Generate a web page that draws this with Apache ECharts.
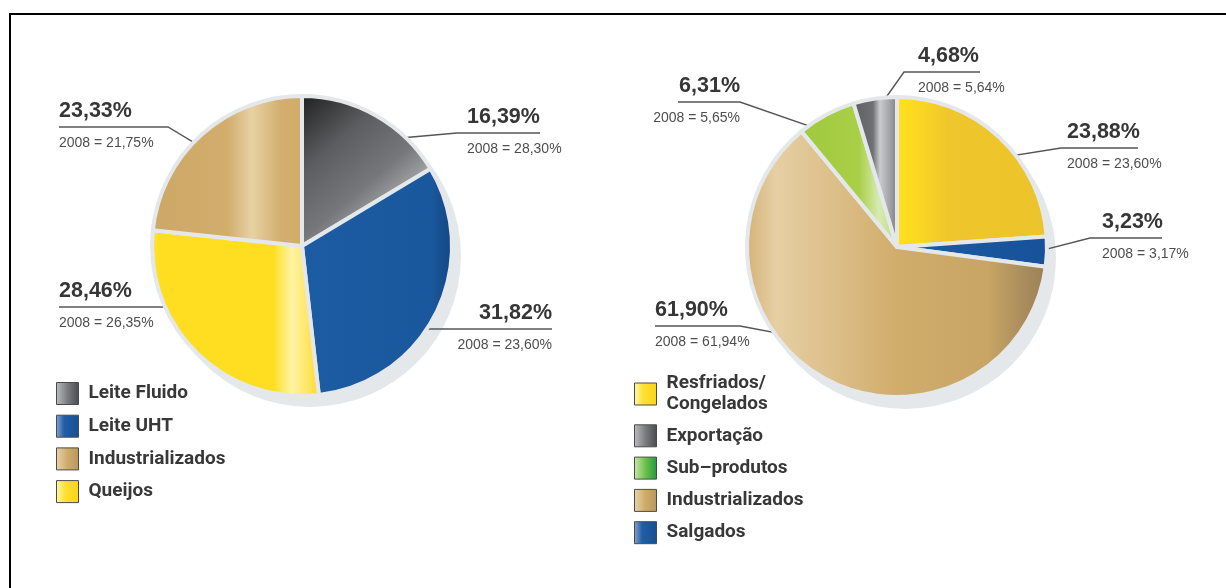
<!DOCTYPE html>
<html>
<head>
<meta charset="utf-8">
<script src="https://cdn.jsdelivr.net/npm/echarts@6/dist/echarts.min.js"></script>
<style>
  html, body { margin: 0; padding: 0; background: #fff; }
  #chart { width: 1226px; height: 588px; }
</style>
</head>
<body>
<div id="chart"></div>
<script>
// left pie - leite
const milkCategories = ['Leite Fluido', 'Leite UHT', 'Queijos', 'Industrializados']
const milkShares = [16.39, 31.82, 28.46, 23.33]
const milkShares2008 = [28.30, 23.60, 26.35, 21.75]
const milkLegend = ['Leite Fluido', 'Leite UHT', 'Industrializados', 'Queijos']

// right pie - carnes
const meatCategories = ['Resfriados/Congelados', 'Salgados', 'Industrializados', 'Sub–produtos', 'Exportação']
const meatShares = [23.88, 3.23, 61.90, 6.31, 4.68]
const meatShares2008 = [23.60, 3.17, 61.94, 5.65, 5.64]
const meatLegend = ['Resfriados/Congelados', 'Exportação', 'Sub–produtos', 'Industrializados', 'Salgados']

const textFont = "'Liberation Sans', Arial, sans-serif"
const legendFont = "Roboto, 'Liberation Sans', sans-serif"

function grad(x2, y2, stops) {
  return new echarts.graphic.LinearGradient(0, 0, x2, y2,
    stops.map(s => ({ offset: s[0], color: s[1] })))
}

// slice fills
const milkFill = {
  'Leite Fluido': grad(1, 1, [[0, '#1e1e1f'], [0.3, '#5c5d60'], [0.55, '#76777a'], [0.74, '#adaeb0'], [0.84, '#dedfe0'], [0.93, '#6b6c6f'], [1, '#3e3f41']]),
  'Leite UHT': grad(1, 0, [[0, '#1c5ca2'], [0.85, '#1a589d'], [1, '#134580']]),
  'Queijos': grad(1, 0, [[0, '#ffe545'], [0.06, '#ffdd20'], [0.72, '#ffdd20'], [0.83, '#fff3a4'], [0.92, '#ffe666'], [1, '#fbd81c']]),
  'Industrializados': grad(1, 0, [[0, '#cda765'], [0.5, '#d2ad6d'], [0.66, '#e7d1a4'], [0.76, '#dbbf88'], [0.85, '#d3ae6e'], [1, '#d0ab6a']])
}
const meatFill = {
  'Resfriados/Congelados': grad(1, 0, [[0, '#ffe21b'], [0.15, '#fbd823'], [0.35, '#efc62b'], [1, '#ecc32a']]),
  'Salgados': grad(1, 0, [[0, '#1c5ca2'], [1, '#17519a']]),
  'Industrializados': grad(1, 0, [[0, '#d3b176'], [0.1, '#e6cfa3'], [0.3, '#dcbe88'], [0.5, '#d1ad6c'], [0.8, '#c8a565'], [0.93, '#a88b5c'], [1, '#9b8055']]),
  'Sub–produtos': grad(1, 0, [[0, '#9fc93d'], [0.6, '#a9cf47'], [0.8, '#d7ebb2'], [1, '#b9d97c']]),
  'Exportação': grad(1, 0, [[0, '#5d5e61'], [0.45, '#6f7073'], [0.6, '#cacbcd'], [0.8, '#a3a4a7'], [1, '#76777a']])
}

// legend swatches
const swatch = {
  'Leite Fluido': grad(1, 0, [[0, '#bdbec0'], [0.5, '#7a7b7e'], [1, '#4a4b4e']]),
  'Exportação': grad(1, 0, [[0, '#bdbec0'], [0.5, '#7a7b7e'], [1, '#4a4b4e']]),
  'Leite UHT': grad(1, 0, [[0, '#88a6d4'], [0.35, '#215ea6'], [1, '#174f93']]),
  'Salgados': grad(1, 0, [[0, '#88a6d4'], [0.35, '#215ea6'], [1, '#174f93']]),
  'Industrializados': grad(1, 0, [[0, '#e8d3aa'], [0.5, '#cfab6b'], [1, '#b8965c']]),
  'Queijos': grad(1, 0, [[0, '#fff7b0'], [0.4, '#ffe033'], [1, '#f9d514']]),
  'Resfriados/Congelados': grad(1, 0, [[0, '#fff7b0'], [0.4, '#ffe033'], [1, '#f9d514']]),
  'Sub–produtos': grad(1, 0, [[0, '#cbe8aa'], [0.5, '#6dc04b'], [1, '#1f9a3b']])
}

// where each label sits (same order as the data)
const milkSpots = [
  { x: 467, lineY: 133, x0: 457, x1: 540, align: 'left', depth: 0.8 },
  { x: 552, lineY: 329, x0: 410, x1: 552, align: 'right', depth: 0.7 },
  { x: 59, lineY: 307, x0: 211, x1: 59, align: 'left', depth: 0.7 },
  { x: 59, lineY: 127, x0: 168, x1: 59, align: 'left', depth: 0.75 }
]
const meatSpots = [
  { x: 1067, lineY: 148, x0: 1061, x1: 1138, align: 'left', depth: 0.78 },
  { x: 1102, lineY: 238, x0: 1090, x1: 1162, align: 'left', depth: 0.94 },
  { x: 655, lineY: 326, x0: 740, x1: 655, align: 'left', depth: 0.75 },
  { x: 740, lineY: 102, x0: 740, x1: 678, align: 'right', depth: 0.84 },
  { x: 918, lineY: 72, x0: 904, x1: 980, align: 'left', depth: 0.92 }
]

const pct = v => v.toFixed(2).replace('.', ',') + '%'

function placeLabels(values, cx, cy, r, spots) {
  const total = values.reduce((a, b) => a + b, 0)
  return function (params) {
    const i = params.dataIndex
    let before = 0
    for (let k = 0; k < i; k++) before += values[k]
    const mid = (before + values[i] / 2) / total * Math.PI * 2
    const s = spots[i]
    const ax = cx + Math.sin(mid) * r * s.depth
    const ay = cy - Math.cos(mid) * r * s.depth
    return {
      x: s.x,
      y: s.lineY - 31.2,
      align: s.align,
      verticalAlign: 'top',
      labelLinePoints: [[ax, ay], [s.x0, s.lineY], [s.x1, s.lineY]]
    }
  }
}

const labelRich = {
  big: { fontFamily: textFont, fontWeight: 'bold', fontSize: 21.5, color: '#363636', lineHeight: 30 },
  small: { fontFamily: textFont, fontSize: 14, color: '#4e4e4e', lineHeight: 35 }
}

function pieSeries(categories, shares, shares2008, fill, spots, center) {
  return {
    type: 'pie',
    center: center,
    radius: 150,
    startAngle: 90,
    clockwise: true,
    avoidLabelOverlap: false,
    animation: false,
    z: 3,
    emphasis: { disabled: true },
    itemStyle: { borderColor: '#e4e8ea', borderWidth: 4 },
    data: categories.map((name, i) => ({ name, value: shares[i], itemStyle: { color: fill[name] } })),
    label: {
      show: true,
      position: 'outside',
      formatter: p => '{big|' + pct(shares[p.dataIndex]) + '}\n{small|2008 = ' + pct(shares2008[p.dataIndex]) + '}',
      rich: labelRich
    },
    labelLine: { show: true, lineStyle: { color: '#555', width: 1.4 } },
    labelLayout: placeLabels(shares, center[0], center[1], 150, spots)
  }
}

function legendBlock(names, left, top, gap) {
  return {
    orient: 'vertical',
    left: left,
    top: top,
    padding: 0,
    itemWidth: 22,
    itemHeight: 22,
    itemGap: gap,
    icon: 'rect',
    selectedMode: false,
    itemStyle: { borderColor: '#4a4a4a', borderWidth: 1 },
    data: names.map(name => ({ name, itemStyle: { color: swatch[name] } })),
    formatter: name => name.replace('/', '/\n'),
    textStyle: {
      fontFamily: legendFont,
      fontWeight: 'bold',
      fontSize: 19,
      color: '#383838',
      lineHeight: 21,
      padding: [0, 0, 0, 5]
    }
  }
}

const chart = echarts.init(document.getElementById('chart'), null, { renderer: 'canvas' })

chart.setOption({
  backgroundColor: '#fff',
  animation: false,
  legend: [
    legendBlock(milkLegend, 56, 382, 9.7),
    legendBlock(meatLegend, 634, 373, 9.3)
  ],
  graphic: [
    { type: 'line', shape: { x1: 9, y1: 14, x2: 1226, y2: 14 }, style: { stroke: '#000', lineWidth: 2 }, z: 10 },
    { type: 'line', shape: { x1: 10, y1: 13, x2: 10, y2: 588 }, style: { stroke: '#000', lineWidth: 2 }, z: 10 },
    { type: 'circle', shape: { cx: 310, cy: 256, r: 151 }, style: { fill: '#e4e8ea' }, z: 1 },
    { type: 'circle', shape: { cx: 905, cy: 258, r: 151 }, style: { fill: '#e4e8ea' }, z: 1 }
  ],
  series: [
    pieSeries(milkCategories, milkShares, milkShares2008, milkFill, milkSpots, [302, 246]),
    pieSeries(meatCategories, meatShares, meatShares2008, meatFill, meatSpots, [897, 247])
  ]
})
</script>
</body>
</html>
